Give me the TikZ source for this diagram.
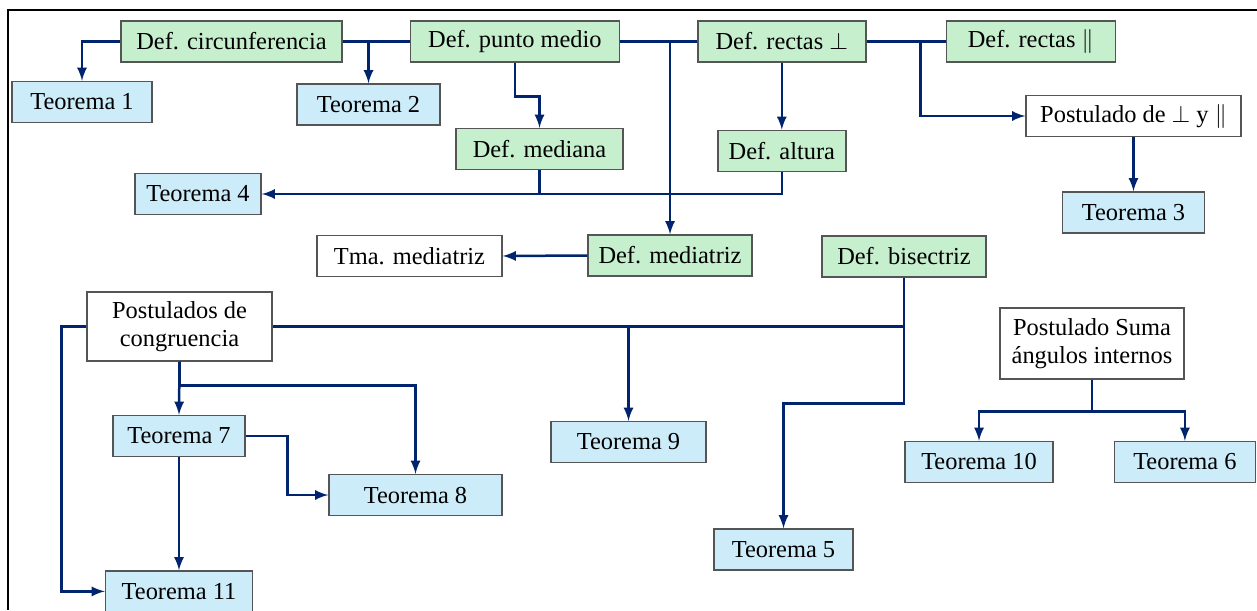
\documentclass[tikz,border=0pt]{standalone}
\usepackage{fontspec}
\setmainfont{Liberation Serif}
\usetikzlibrary{arrows,positioning}
\definecolor{defgreen}{RGB}{198,239,206}
\definecolor{tmablue}{RGB}{204,236,250}
\definecolor{linkblue}{RGB}{0,36,110}
\definecolor{boxgray}{RGB}{85,85,85}

\begin{document}
\begin{tikzpicture}[x=0.5pt,y=-0.5pt,font=\fontsize{12.2}{14}\selectfont]
	  \tikzstyle{box}=[rectangle,draw=boxgray,line width=0.7pt,inner sep=1pt,minimum height=20.5pt,align=center]
	  \tikzstyle{defn}=[box,fill=defgreen]
	  \tikzstyle{tma}=[box,fill=tmablue]
	  \tikzstyle{postul}=[box,fill=white]
	  \tikzstyle{link}=[draw=linkblue,line width=1.25pt]
	  \tikzstyle{arr}=[link,-latex]

	  \useasboundingbox (0,0) rectangle (1257,610);
	  \draw[line width=1.3pt] (8,610) -- (8,10) -- (1257,10);

	  % definiciones
	  \node[defn,minimum width=110.5pt] (circ) at (231.5,41.5) {Def. circunferencia};
	  \node[defn,minimum width=104.5pt] (pmed) [right=33.5pt of circ] {Def. punto medio};
	  \node[defn,minimum width=84pt] (rperp) [right=38.5pt of pmed] {Def. rectas $\perp$};
	  \node[defn,minimum width=84.5pt] (rpar) [right=39.5pt of rperp] {Def. rectas $\parallel$};
	  \node[defn,minimum width=83.5pt] (median) at (539.5,149) {Def. mediana};
	  \node[defn,minimum width=64pt] (altura) [below=33.5pt of rperp] {Def. altura};
	  \node[defn,minimum width=82pt] (dmed) at (670,255.5) {Def. mediatriz};
	  \node[defn,minimum width=82pt] (bis) at (904,256.5) {Def. bisectriz};

	  % postulados
	  \node[postul,minimum width=107.5pt] (post) at (1133.5,116) {Postulado de $\perp$ y $\parallel$};
	  \node[postul,minimum width=92.5pt] (tmed) at (409.5,256) {Tma. mediatriz};
	  \node[postul,minimum width=92.5pt,minimum height=34.5pt] (cong) at (179.5,326.5) {Postulados de\\congruencia};
	  \node[postul,minimum width=92pt,minimum height=35.5pt] (suma) at (1092,343.5) {Postulado Suma\\ángulos internos};

	  % teoremas
	  \node[tma,minimum width=70pt] (t1) at (82,102) {Teorema 1};
	  \node[tma,minimum width=71.5pt] (t2) at (368.5,104.5) {Teorema 2};
	  \node[tma,minimum width=71pt] (t3) [below=27pt of post] {Teorema 3};
	  \node[tma,minimum width=63pt] (t4) at (198,194) {Teorema 4};
	  \node[tma,minimum width=69.5pt] (t5) at (783.5,549.5) {Teorema 5};
	  \node[tma,minimum width=66pt] (t7) at (179,436) {Teorema 7};
	  \node[tma,minimum width=86.5pt] (t8) at (415.5,495) {Teorema 8};
	  \node[tma,minimum width=77.5pt] (t9) at (628.5,442) {Teorema 9};
	  \node[tma,minimum width=74pt] (t10) at (979,462) {Teorema 10};
	  \node[tma,minimum width=70.5pt] (t6) [right=30pt of t10] {Teorema 6};
	  \node[tma,minimum width=73.5pt] (t11) [below=56.5pt of t7] {Teorema 11};

	  % conexiones
	  \draw[arr] (circ.west) -| (t1.north);
	  \draw[link] (circ.east) -- (pmed.west);
	  \draw[arr] (circ.east -| t2) -- (t2.north);
	  \draw[arr] (pmed.south) -- ++(0,34) -| (median.north);
	  \draw[link] (pmed.east) -- (rperp.west);
	  \draw[arr] (pmed.east -| dmed) -- (dmed.north);
	  \draw[arr] (rperp.south) -- (altura.north);
	  \draw[link] (median.south) -- (median.south |- t4.east);
	  \draw[arr] (altura.south) |- (t4.east);
	  \draw[link] (rperp.east) -- (rpar.west);
	  \draw[arr] (rperp.east) -- ++(54,0) |- (post.west);
	  \draw[arr] (post.south) -- (t3.north);
	  \draw[arr] (dmed.west) -- (tmed.east);

	  \draw[link] (cong.east) -| (bis.south);
	  \draw[arr] (cong.east -| t9) -- (t9.north);
	  \draw[arr] (bis.south) -- ++(0,126) -| (t5.north);
	  \draw[arr] (cong.west) -- ++(-25,0) |- (t11.west);
	  \draw[arr] (cong.south) -- (t7.north);
	  \draw[arr] (cong.south) -- ++(0,24) -| (t8.north);
	  \draw[arr] (t7.east) -- ++(42,0) |- (t8.west);
	  \draw[arr] (t7.south) -- (t11.north);
	  \draw[arr] (suma.south) -- ++(0,32) -| (t10.north);
	  \draw[arr] (suma.south) -- ++(0,32) -| (t6.north);
	\end{tikzpicture}
\end{document}
